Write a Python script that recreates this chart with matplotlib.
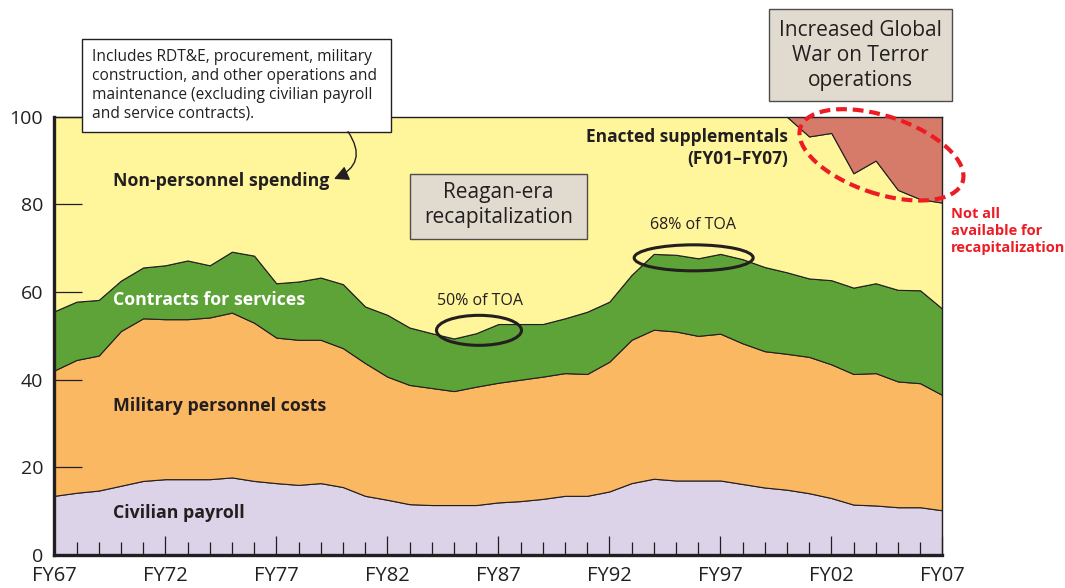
import matplotlib
matplotlib.use("Agg")
import matplotlib.pyplot as plt
import numpy as np
from matplotlib.patches import Rectangle, Ellipse, FancyArrowPatch
from matplotlib.transforms import ScaledTranslation
from matplotlib.ticker import FixedLocator, MultipleLocator

plt.rcParams['font.family'] = ['Open Sans', 'DejaVu Sans']

INK = '#231f20'

# share of DoD TOA (percent), FY67..FY07
years = np.arange(1967, 2008)
civilian_payroll = [13.5, 14.2, 14.7, 15.8, 16.9, 17.3, 17.3, 17.3, 17.7, 16.9,
                    16.4, 16.0, 16.4, 15.5, 13.5, 12.6, 11.6, 11.4, 11.4, 11.4,
                    12.0, 12.3, 12.8, 13.5, 13.5, 14.5, 16.4, 17.4, 17.0, 17.0,
                    17.0, 16.2, 15.4, 14.9, 14.1, 13.0, 11.5, 11.3, 10.9, 10.9, 10.2]
military_personnel = [28.6, 30.3, 30.8, 35.3, 37.1, 36.5, 36.5, 36.9, 37.6, 36.1,
                      33.2, 33.1, 32.7, 31.7, 30.3, 28.1, 27.2, 26.7, 26.0, 27.0,
                      27.3, 27.7, 27.9, 28.0, 27.8, 29.6, 32.7, 34.0, 34.0, 33.0,
                      33.5, 32.1, 31.1, 31.0, 31.1, 30.5, 29.8, 30.2, 28.7, 28.3, 26.3]
service_contracts = [13.5, 13.3, 12.7, 11.5, 11.6, 12.3, 13.4, 11.9, 13.9, 15.3,
                     12.4, 13.3, 14.2, 14.6, 12.9, 14.1, 13.1, 12.5, 12.0, 12.2,
                     13.4, 12.7, 12.0, 12.5, 14.2, 13.7, 14.8, 17.3, 17.5, 17.7,
                     18.2, 19.2, 19.2, 18.6, 17.9, 19.2, 19.7, 20.5, 20.9, 21.2, 19.7]
non_personnel = [44.4, 42.2, 41.8, 37.4, 34.4, 33.9, 32.8, 33.9, 30.8, 31.7,
                 38.0, 37.6, 36.7, 38.2, 43.3, 45.2, 48.1, 49.4, 50.6, 49.4,
                 47.3, 47.3, 47.3, 46.0, 44.5, 42.2, 36.1, 31.3, 31.5, 32.3,
                 31.3, 32.5, 34.3, 35.5, 32.4, 33.6, 26.1, 28.0, 22.8, 20.8, 24.2]
supplementals = [0, 0, 0, 0, 0, 0, 0, 0, 0, 0,
                 0, 0, 0, 0, 0, 0, 0, 0, 0, 0,
                 0, 0, 0, 0, 0, 0, 0, 0, 0, 0,
                 0, 0, 0, 0, 4.5, 3.7, 12.9, 10.0, 16.7, 18.8, 19.6]

layer_colors = ['#dcd3e8', '#fbb862', '#5ea337', '#fff59b', '#d67a6a']

fig = plt.figure(figsize=(10.65, 5.88), dpi=100)
ax = fig.add_axes([54.3 / 1065, 1 - 555 / 588, 888 / 1065, (555 - 116.7) / 588])

ax.stackplot(years, civilian_payroll, military_personnel, service_contracts,
             non_personnel, supplementals, colors=layer_colors,
             edgecolor=INK, linewidth=0.8)

ax.set_xlim(1967, 2007)
ax.set_ylim(0, 100)

for side in ['left', 'bottom']:
    ax.spines[side].set_linewidth(2.4)
    ax.spines[side].set_color(INK)
for side in ['top', 'right']:
    ax.spines[side].set_linewidth(1.0)
    ax.spines[side].set_color(INK)

ax.set_yticks([0, 20, 40, 60, 80, 100])
ax.tick_params(axis='y', direction='in', length=20, width=0.9, pad=8,
               labelsize=14, color=INK, labelcolor=INK)
major_years = list(range(1967, 2008, 5))
ax.xaxis.set_major_locator(FixedLocator(major_years))
ax.set_xticklabels([f"FY{y % 100:02d}" for y in major_years])
ax.xaxis.set_minor_locator(MultipleLocator(1))
ax.tick_params(axis='x', which='major', direction='in', length=14, width=0.9,
               pad=8, labelsize=14.5, color=INK, labelcolor=INK)
ax.tick_params(axis='x', which='minor', direction='in', length=9.5, width=0.9,
               color=INK)

# layer labels
lbl = dict(fontsize=12.8, fontweight='bold', va='center', ha='left')
ax.text(1969.64, 85.3, "Non-personnel spending", color=INK, **lbl)
ax.text(1969.64, 58.2, "Contracts for services", color='white', **lbl)
ax.text(1969.64, 34.0, "Military personnel costs", color=INK, **lbl)
ax.text(1969.64, 9.6, "Civilian payroll", color=INK, **lbl)

# note box on top-left
ax.add_patch(Rectangle((1968.25, 96.6), 13.92, 21.2, facecolor='white',
                       edgecolor=INK, linewidth=1.0, clip_on=False, zorder=5))
ax.text(1968.68, 107.1,
        "Includes RDT&E, procurement, military\n"
        "construction, and other operations and\n"
        "maintenance (excluding civilian payroll\n"
        "and service contracts).",
        fontsize=11.2, color=INK, ha='left', va='center', linespacing=1.23,
        zorder=6)
ax.add_patch(FancyArrowPatch((1980.23, 96.6), (1979.6, 85.8),
                             connectionstyle='arc3,rad=-0.6',
                             arrowstyle='-|>,head_length=0.55,head_width=0.28',
                             mutation_scale=16, color=INK, linewidth=1.0,
                             shrinkA=0, shrinkB=0, clip_on=False, zorder=6))

# grey callout boxes
ax.add_patch(Rectangle((1983.02, 72.1), 7.97, 14.9, facecolor='#e1dace',
                       edgecolor='#4d4d4d', linewidth=1.0, zorder=5))
ax.text(1987.0, 79.8, "Reagan-era\nrecapitalization", fontsize=15, color=INK,
        ha='center', va='center', linespacing=1.25, zorder=6)
ax.add_patch(Rectangle((1999.19, 103.5), 8.26, 21.1, facecolor='#e1dace',
                       edgecolor='#4d4d4d', linewidth=1.0, clip_on=False, zorder=5))
ax.text(2003.32, 114.0, "Increased Global\nWar on Terror\noperations", fontsize=15,
        color=INK, ha='center', va='center', linespacing=1.27, zorder=6)

ax.text(2000.05, 92.8, "Enacted supplementals\n(FY01\u2013FY07)", fontsize=12.5,
        fontweight='bold', color=INK, ha='right', va='center', linespacing=1.3)

# ellipses sized in inches, centred on data points
def ring(cx, cy, w, h, angle=0, **kw):
    tr = fig.dpi_scale_trans + ScaledTranslation(cx, cy, ax.transData)
    ax.add_patch(Ellipse((0, 0), w, h, angle=angle, transform=tr, fill=False,
                         clip_on=False, zorder=7, **kw))

ax.text(1986.18, 58.06, "50% of TOA", fontsize=11.5, color=INK, ha='center', va='center')
ring(1986.13, 51.26, 0.85, 0.30, edgecolor=INK, linewidth=2.2)
ax.text(1995.76, 75.3, "68% of TOA", fontsize=11.5, color=INK, ha='center', va='center')
ring(1995.8, 67.8, 1.19, 0.26, edgecolor=INK, linewidth=2.2)

ring(2004.26, 91.3, 1.71, 0.775, angle=-18.5, edgecolor='#ed1c24',
     linewidth=3.0, linestyle=(0, (2.6, 1.4)))
ax.text(2007.38, 74.0, "Not all\navailable for\nrecapitalization", fontsize=10.5,
        fontweight='bold', color='#ed1c24', ha='left', va='center', linespacing=1.28)

fig.savefig('out.png', dpi=100)
